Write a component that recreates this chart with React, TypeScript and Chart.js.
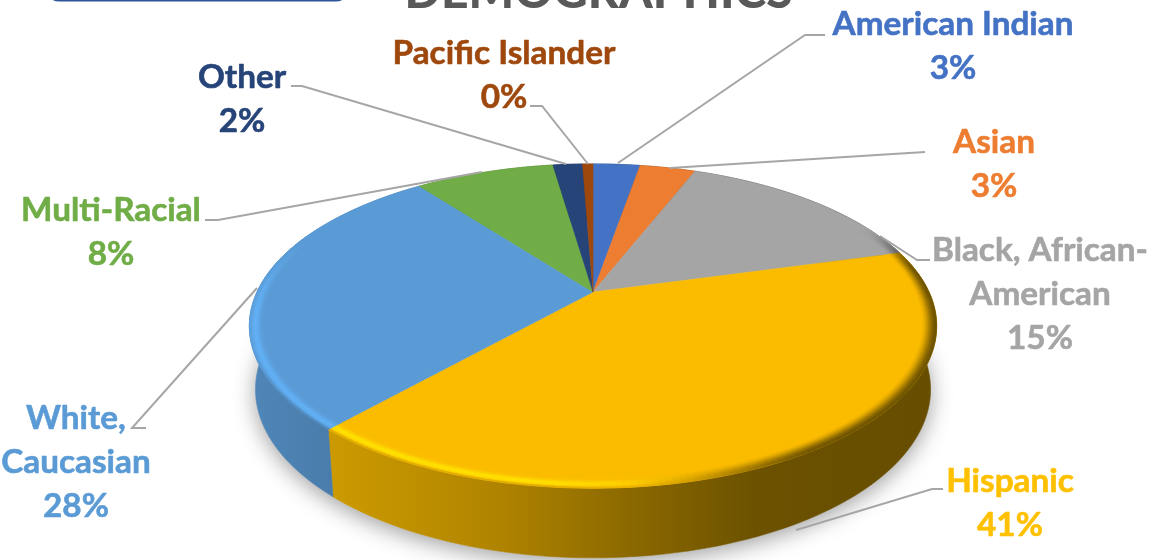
import React, { useEffect, useRef } from "react";
import { Chart, registerables } from "chart.js";

Chart.register(...registerables);

const categories = ["American Indian", "Asian", "Black, African-American", "Hispanic", "White, Caucasian", "Multi-Racial", "Other", "Pacific Islander"];
const values = [2.7, 3.2, 14.8, 40.8, 28.1, 8.0, 1.7, 0.6];
const percentLabels = ["3%", "3%", "15%", "41%", "28%", "8%", "2%", "0%"];
const colors = ["#4472C4", "#ED7D31", "#A5A5A5", "#FFC000", "#5B9BD5", "#70AD47", "#264478", "#9E480E"];
const highlightColors = ["#4472C4", "#ED7D31", "#A5A5A5", "#FFE200", "#62B0F5", "#70AD47", "#264478", "#9E480E"];
const labelLines = [["American Indian"], ["Asian"], ["Black, African-", "American"], ["Hispanic"], ["White,", "Caucasian"], ["Multi-Racial"], ["Other"], ["Pacific Islander"]];
const labelAnchors = [[953, 24], [994, 142], [1040, 250], [1010, 481], [76, 418], [111, 210], [242, 77], [504, 53]];
const leaders = [
  [[825, 35], [805, 35], [618, 163]],
  [[925, 152], [670, 168]],
  [[930, 260], [917, 260], [880, 236]],
  [[943, 489], [932, 489], [796, 530]],
  [[146, 428], [132, 428], [257, 288]],
  [[205, 220], [218, 220], [482, 172]],
  [[291, 86], [302, 86], [566, 164]],
  [[530, 106], [542, 106], [588, 164]],
];

const TOP = { cx: 593, cy: 292, R: 336, Ry: 155 };
const BOTTOM = { cx: 593, cy: 354, R: 330, Ry: 161 };
const K = 0.21;
const FONT = "Lato, 'Open Sans', sans-serif";

type Plane = typeof TOP;
const project = (p: Plane, a: number, r = 1): [number, number] => {
  const u = r * Math.cos(a);
  const v = r * Math.sin(a);
  const d = 1 - K * v;
  return [p.cx + (p.R * u) / d, p.cy + (p.Ry * v) / d];
};
const rgb = (h: string) => [1, 3, 5].map((i) => parseInt(h.slice(i, i + 2), 16));
const mix = (a: number[], b: number[], t: number) => a.map((x, i) => x + (b[i] - x) * t);
const css = (c: number[]) => `rgb(${c.map((x) => Math.round(x)).join(",")})`;
const smooth = (a: number, b: number, x: number) => {
  const t = Math.min(1, Math.max(0, (x - a) / (b - a)));
  return t * t * (3 - 2 * t);
};
const DEG = Math.PI / 180;

const pie3d = {
  id: "pie3d",
  beforeDatasetDraw(chart: any) {
    const ctx: CanvasRenderingContext2D = chart.ctx;
    const arcs = chart.getDatasetMeta(0).data;
    const step = 1.5 * DEG;
    const ribbon = (p: Plane, a0: number, a1: number, r = 1) => {
      const n = Math.max(2, Math.ceil((a1 - a0) / step));
      const pts: [number, number][] = [];
      for (let i = 0; i <= n; i++) pts.push(project(p, a0 + ((a1 - a0) * i) / n, r));
      return pts;
    };

    // soft shadow under the disc
    ctx.save();
    ctx.shadowColor = "rgba(0,0,0,0.38)";
    ctx.shadowBlur = 22;
    ctx.shadowOffsetY = 5;
    ctx.fillStyle = "#ddd";
    ctx.beginPath();
    ribbon(BOTTOM, 0, 2 * Math.PI).forEach(([x, y], i) => (i ? ctx.lineTo(x, y) : ctx.moveTo(x, y)));
    ctx.closePath();
    ctx.fill();
    ctx.restore();

    // side walls
    arcs.forEach((arc: any, i: number) => {
      const base = rgb(colors[i]);
      const g = ctx.createLinearGradient(250, 0, 937, 0);
      const stops = [[0, 0.87], [0.12, 0.8], [0.36, 0.69], [0.56, 0.54], [0.74, 0.42], [1, 0.4]];
      stops.forEach(([o, f]) => g.addColorStop(o, css(base.map((c) => c * f))));
      ctx.fillStyle = g;
      ctx.strokeStyle = g;
      ctx.lineWidth = 0.6;
      ctx.beginPath();
      const a = ribbon(TOP, arc.startAngle, arc.endAngle);
      const b = ribbon(BOTTOM, arc.startAngle, arc.endAngle).reverse();
      [...a, ...b].forEach(([x, y], j) => (j ? ctx.lineTo(x, y) : ctx.moveTo(x, y)));
      ctx.closePath();
      ctx.fill();
      ctx.stroke();
    });

    // top faces
    arcs.forEach((arc: any, i: number) => {
      ctx.fillStyle = i === 3 ? "#FBBC00" : colors[i];
      ctx.strokeStyle = ctx.fillStyle;
      ctx.lineWidth = 0.5;
      ctx.beginPath();
      ctx.moveTo(TOP.cx, TOP.cy);
      ribbon(TOP, arc.startAngle, arc.endAngle).forEach(([x, y]) => ctx.lineTo(x, y));
      ctx.closePath();
      ctx.fill();
      ctx.stroke();
    });

    // bevel along the rim
    const bands = 10;
    const inner = 0.952;
    arcs.forEach((arc: any, i: number) => {
      const face = rgb(i === 3 ? "#FBBC00" : colors[i]);
      const hi = rgb(highlightColors[i]);
      const dark = rgb(colors[i]).map((c) => c * 0.42);
      const edge = rgb(colors[i]).map((c) => c * 0.84);
      const n = Math.max(1, Math.ceil((arc.endAngle - arc.startAngle) / (1 * DEG)));
      for (let s = 0; s < n; s++) {
        const a0 = arc.startAngle + ((arc.endAngle - arc.startAngle) * s) / n;
        const a1 = arc.startAngle + ((arc.endAngle - arc.startAngle) * (s + 1)) / n;
        let deg = ((a0 + a1) / 2 / DEG + 360) % 360;
        if (deg > 300) deg -= 360;
        const h = smooth(70, 100, deg) * (1 - smooth(172, 205, deg));
        const e = h * (1 - smooth(135, 165, deg));
        const d = (1 - smooth(55, 88, deg)) * smooth(-28, -8, deg);
        if (h <= 0.01 && d <= 0.01) continue;
        for (let b = 0; b < bands; b++) {
          const t = (b + 0.5) / bands;
          const r0 = inner + ((1 - inner) * b) / bands;
          const r1 = inner + ((1 - inner) * (b + 1)) / bands;
          let c = mix(face, hi, h * Math.exp(-Math.pow((t - 0.66) / 0.26, 2)));
          c = mix(c, edge, e * smooth(0.86, 1, t));
          c = mix(c, dark, d * smooth(0.1, 1, t));
          const q = [project(TOP, a0, r0), project(TOP, a1, r0), project(TOP, a1, r1), project(TOP, a0, r1)];
          ctx.fillStyle = css(c);
          ctx.strokeStyle = ctx.fillStyle;
          ctx.lineWidth = 0.6;
          ctx.beginPath();
          q.forEach(([x, y], j) => (j ? ctx.lineTo(x, y) : ctx.moveTo(x, y)));
          ctx.closePath();
          ctx.fill();
          ctx.stroke();
        }
      }
    });
    return false;
  },
  afterDraw(chart: any) {
    const ctx: CanvasRenderingContext2D = chart.ctx;
    ctx.save();
    // clipped rounded box at the top edge
    ctx.strokeStyle = "#2F5597";
    ctx.lineWidth = 3;
    ctx.beginPath();
    ctx.roundRect(47, -40, 301, 40, 12);
    ctx.stroke();

    // clipped title
    ctx.fillStyle = "#595959";
    ctx.font = `900 48px ${FONT}`;
    ctx.textAlign = "center";
    ctx.textBaseline = "alphabetic";
    ctx.fillText("DEMOGRAPHICS", 598.5, 8);

    // leader lines
    ctx.strokeStyle = "#A6A6A6";
    ctx.lineWidth = 2;
    leaders.forEach((pts) => {
      ctx.beginPath();
      pts.forEach(([x, y], i) => (i ? ctx.lineTo(x, y) : ctx.moveTo(x, y)));
      ctx.stroke();
    });

    // data labels
    ctx.font = `700 33.3px ${FONT}`;
    ctx.textBaseline = "middle";
    ctx.lineWidth = 0.6;
    ctx.lineJoin = "round";
    categories.forEach((_, i) => {
      ctx.fillStyle = colors[i];
      ctx.strokeStyle = colors[i];
      const [x, y] = labelAnchors[i];
      const lines = [...labelLines[i], percentLabels[i]];
      lines.forEach((line, j) => {
        ctx.fillText(line, x, y + j * 44);
        ctx.strokeText(line, x, y + j * 44);
      });
    });
    ctx.restore();
  },
};

export default function App() {
  const ref = useRef<HTMLCanvasElement>(null);
  useEffect(() => {
    const chart = new Chart(ref.current!, {
      type: "pie",
      data: {
        labels: categories,
        datasets: [{ data: values, backgroundColor: colors, borderWidth: 0 }],
      },
      options: {
        responsive: false,
        animation: false,
        plugins: { legend: { display: false }, tooltip: { enabled: false }, title: { display: false } },
      },
      plugins: [pie3d],
    } as any);
    return () => chart.destroy();
  }, []);
  return (
    <canvas
      ref={ref}
      width={1155}
      height={560}
      style={{ position: "absolute", left: 0, top: 0, width: 1155, height: 560, display: "block", background: "#fff", filter: "blur(0.5px)" }}
    />
  );
}
